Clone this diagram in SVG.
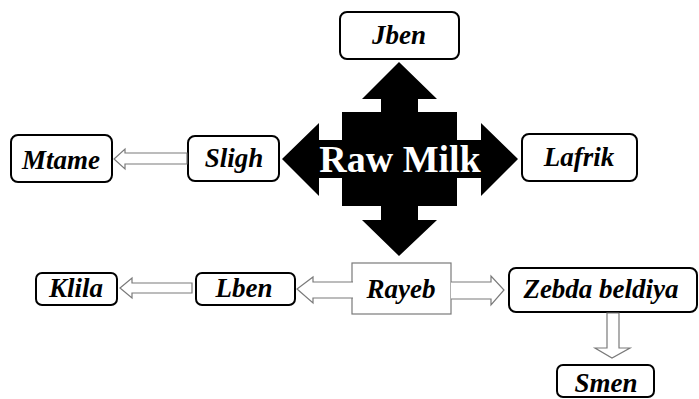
<svg xmlns="http://www.w3.org/2000/svg" width="699" height="399" viewBox="0 0 699 399">
<style>
.box{fill:#fff;stroke:#000;stroke-width:2}
.lbl{font-family:"Liberation Serif","Times New Roman",serif;font-weight:bold;font-style:italic;font-size:27px;fill:#000;text-anchor:middle}
.harrow{fill:#fff;stroke:#7a7a7a;stroke-width:1.2}
</style>
<rect width="699" height="399" fill="#fff"/>
<g id="raw-milk">
<polygon fill="#000" points="399,62 437,99 418,99 418,112 457,112 457,140 481,140 481,123 518,159 481,196 481,178 457,178 457,206 418,206 418,220 437,220 399,256 362,220 381,220 381,206 342,206 342,178 319,178 319,196 282,159 319,123 319,140 342,140 342,112 381,112 381,99 362,99"/>
<text x="400" y="172" font-family="Liberation Serif,'Times New Roman',serif" font-weight="bold" font-size="38" fill="#fff" text-anchor="middle">Raw Milk</text>
</g>
<g id="jben"><rect class="box" x="340" y="12" width="119" height="47" rx="7"/><text class="lbl" x="399" y="44">Jben</text></g>
<g id="sligh"><rect class="box" x="188" y="136" width="91" height="45" rx="7"/><text class="lbl" x="234" y="167">Sligh</text></g>
<g id="mtame"><rect class="box" x="11" y="135" width="101" height="47" rx="7"/><text class="lbl" x="61" y="169">Mtame</text></g>
<g id="lafrik"><rect class="box" x="522" y="134" width="115" height="47" rx="7"/><text class="lbl" x="579" y="166">Lafrik</text></g>
<g id="klila"><rect class="box" x="36" y="273" width="81" height="32" rx="6"/><text class="lbl" x="76" y="297">Klila</text></g>
<g id="lben"><rect class="box" x="196" y="273" width="99" height="32" rx="6"/><text class="lbl" x="244" y="297">Lben</text></g>
<g id="rayeb"><rect x="352" y="263" width="99" height="51" fill="#fff" stroke="#7a7a7a" stroke-width="1.2"/><text class="lbl" x="401" y="298">Rayeb</text></g>
<g id="zebda-beldiya"><rect class="box" x="509" y="268" width="188" height="44" rx="7"/><text class="lbl" x="601" y="298">Zebda beldiya</text></g>
<g id="smen"><rect class="box" x="557" y="365" width="97" height="32" rx="6"/><text class="lbl" x="606" y="392">Smen</text></g>
<g id="connectors">
<polygon class="harrow" points="187,153 125,153 125,149 114,159 125,169 125,164 187,164"/>
<polygon class="harrow" points="192,283 132,283 132,278 120,288 132,298 132,293 192,293"/>
<path class="harrow" d="M353,282 H313 V277 L297,289 L313,303 V298 H353"/>
<path class="harrow" d="M451,282 H491 V276 L504,290 L491,305 V299 H451"/>
<polygon class="harrow" points="607,313 607,348 595,348 612,358 630,348 619,348 619,313"/>
</g>
</svg>
